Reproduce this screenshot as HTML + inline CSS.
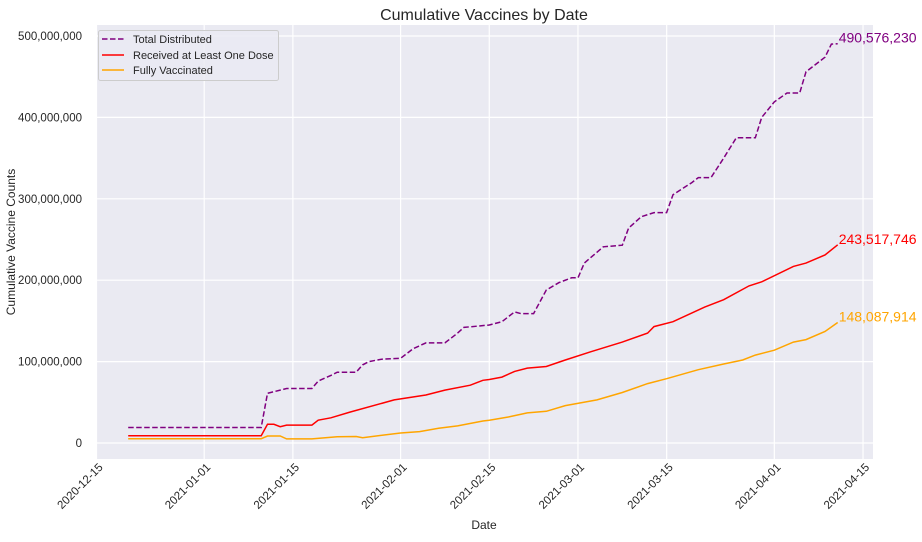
<!DOCTYPE html>
<html><head><meta charset="utf-8">
<style>
body{margin:0;background:#fff;font-family:"Liberation Sans",Arial,sans-serif;}
svg text{font-family:"Liberation Sans",Arial,sans-serif;}
</style></head>
<body>
<svg id="chart" width="922" height="537" viewBox="0 0 922 537">
<rect x="96" y="25" width="777" height="434" fill="#eaeaf2"/>
<g id="grid"></g>
<g id="series"></g>
<text x="484" y="20" font-size="16" text-anchor="middle" fill="#262626">Cumulative Vaccines by Date</text>
<text x="484" y="529" font-size="12" text-anchor="middle" fill="#262626">Date</text>
<text x="15" y="242" font-size="12" text-anchor="middle" fill="#262626" transform="rotate(-90 15 242)">Cumulative Vaccine Counts</text>
<g>
<rect x="98.5" y="30.5" width="180" height="50" rx="2" fill="#eaeaf2" fill-opacity="0.8" stroke="#cccccc"/>
<g><line x1="102" y1="39" x2="124" y2="39" stroke="purple" stroke-width="1.5" stroke-dasharray="5.5,2.5"/><text x="133" y="43" font-size="11" fill="#262626">Total Distributed</text></g>
<g><line x1="102" y1="55" x2="124" y2="55" stroke="red" stroke-width="1.5"/><text x="133" y="59" font-size="11" fill="#262626">Received at Least One Dose</text></g>
<g><line x1="102" y1="70" x2="124" y2="70" stroke="orange" stroke-width="1.5"/><text x="133" y="74" font-size="11" fill="#262626">Fully Vaccinated</text></g>
</g>
</svg>
<script>
const distDates=["2020-12-20","2021-01-10","2021-01-11","2021-01-13","2021-01-14","2021-01-18","2021-01-19","2021-01-21","2021-01-22","2021-01-25","2021-01-26","2021-01-27","2021-01-29","2021-02-01","2021-02-03","2021-02-05","2021-02-08","2021-02-10","2021-02-11","2021-02-15","2021-02-17","2021-02-19","2021-02-20","2021-02-22","2021-02-24","2021-02-26","2021-02-28","2021-03-01","2021-03-02","2021-03-05","2021-03-08","2021-03-09","2021-03-11","2021-03-13","2021-03-15","2021-03-16","2021-03-19","2021-03-20","2021-03-22","2021-03-24","2021-03-26","2021-03-29","2021-03-30","2021-04-01","2021-04-03","2021-04-05","2021-04-06","2021-04-09","2021-04-10","2021-04-11"];
const distValues=[19,19,61,65,67,67,76,83,87,87,96,100,103,104,116,123,123,135,142,145,149,161,159,159,188,197,203,203,221,241,243,264,278,283,283,305,320,326,326,350,375,375,400,419,430,430,456,474,490,490.576230];
const doseDates=["2020-12-20","2021-01-10","2021-01-11","2021-01-12","2021-01-13","2021-01-14","2021-01-18","2021-01-19","2021-01-21","2021-01-24","2021-01-31","2021-02-05","2021-02-08","2021-02-12","2021-02-14","2021-02-15","2021-02-17","2021-02-19","2021-02-21","2021-02-24","2021-02-27","2021-03-03","2021-03-08","2021-03-12","2021-03-13","2021-03-16","2021-03-21","2021-03-24","2021-03-28","2021-03-30","2021-04-04","2021-04-06","2021-04-09","2021-04-11"];
const doseValues=[9,9,23,23,20,22,22,28,31,38,53,59,65,71,77,78,81,88,92,94,102,112,124,135,143,149,167,176,193,198,217,221,231,243.517746];
const fullDates=["2020-12-20","2021-01-10","2021-01-11","2021-01-13","2021-01-14","2021-01-18","2021-01-22","2021-01-25","2021-01-26","2021-02-01","2021-02-04","2021-02-07","2021-02-10","2021-02-14","2021-02-15","2021-02-18","2021-02-21","2021-02-24","2021-02-27","2021-03-04","2021-03-08","2021-03-12","2021-03-15","2021-03-20","2021-03-24","2021-03-27","2021-03-29","2021-04-01","2021-04-04","2021-04-06","2021-04-09","2021-04-11"];
const fullValues=[5.3,5.3,8.6,8.6,5,5,7.8,8,6.5,12.3,14,18,21,27,28,32,37,39,46,53,62,73,79,90,97,102,108,114,124,127,137,148.087914];
const xTickLabels=["2020-12-15","2021-01-01","2021-01-15","2021-02-01","2021-02-15","2021-03-01","2021-03-15","2021-04-01","2021-04-15"];
const yTickValues=[0,100,200,300,400,500];
const endLabels=["490,576,230","243,517,746","148,087,914"];

const NS="http://www.w3.org/2000/svg";
const base=Date.UTC(2020,11,15);
function dayOf(s){const p=s.split("-");return (Date.UTC(+p[0],+p[1]-1,+p[2])-base)/86400000;}
function xScale(s){return 96.5+dayOf(s)*6.335;}
function yScale(v){return 443-v*0.814;}
function mk(tag,attrs,parent){const e=document.createElementNS(NS,tag);for(const k in attrs)e.setAttribute(k,attrs[k]);parent.appendChild(e);return e;}
const grid=document.getElementById("grid"),ser=document.getElementById("series"),svg=document.getElementById("chart");
yTickValues.forEach(v=>{
  const y=yScale(v);
  const l=mk("line",{x1:96,x2:873,y1:y,y2:y,stroke:"#fff","stroke-width":1.2},grid);
  
  
  const t=mk("text",{x:82,y:y+4,"font-size":11.5,"text-anchor":"end",fill:"#262626"},svg);
  t.textContent=v===0?"0":(v*1000000).toLocaleString("en-US");
  
  
});
xTickLabels.forEach(s=>{
  const x=xScale(s);
  const l=mk("line",{x1:x,x2:x,y1:25,y2:459,stroke:"#fff","stroke-width":1.2},grid);
  
  
  const t=mk("text",{x:x+7,y:468,"font-size":11.5,"text-anchor":"end",fill:"#262626",transform:`rotate(-45 ${x+7} 468)`},svg);
  t.textContent=s;
  
  
});
function drawLine(dates,vals,color,dash,name){
  const d=dates.map((s,i)=>(i?"L":"M")+xScale(s).toFixed(1)+","+yScale(vals[i]).toFixed(1)).join("");
  const p=mk("path",{d:d,fill:"none",stroke:color,"stroke-width":1.5},ser);
  if(dash)p.setAttribute("stroke-dasharray","5.5,2.5");
  
  
  return [xScale(dates[dates.length-1]),yScale(vals[vals.length-1])];
}
const e1=drawLine(distDates,distValues,"purple",true,"total-distributed-line");
const e2=drawLine(doseDates,doseValues,"red",false,"one-dose-line");
const e3=drawLine(fullDates,fullValues,"orange",false,"fully-vaccinated-line");
[[e1,"purple"],[e2,"red"],[e3,"orange"]].forEach((a,i)=>{
  const t=mk("text",{x:a[0][0]+1,y:a[0][1]-1,"font-size":14,fill:a[1]},svg);
  t.textContent=endLabels[i];
  
  
});
</script>
</body></html>
